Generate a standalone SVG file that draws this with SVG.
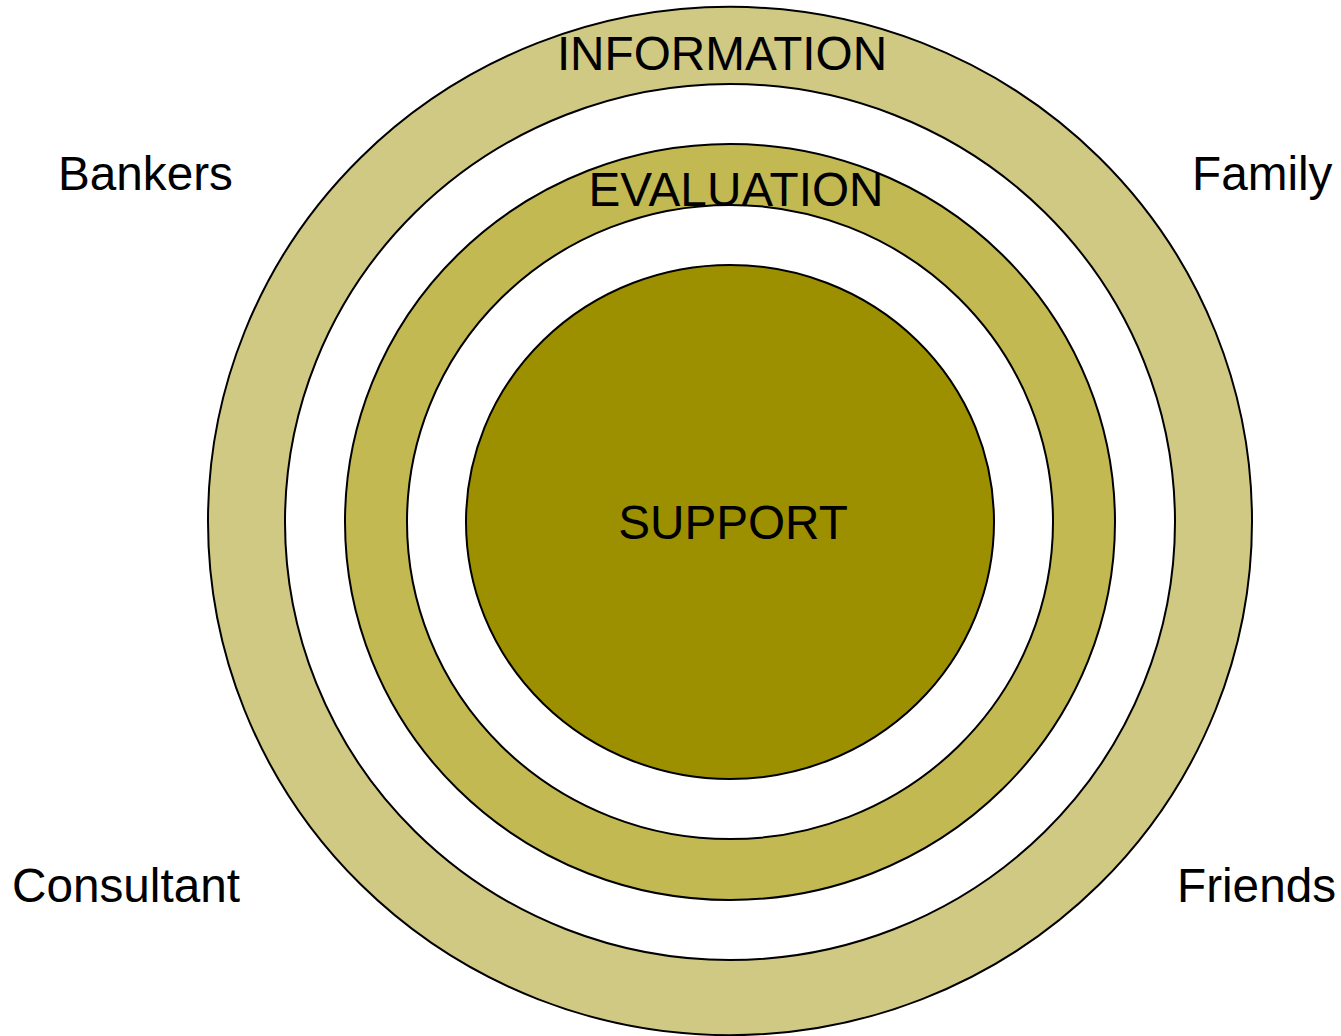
<svg xmlns="http://www.w3.org/2000/svg" width="1341" height="1036" viewBox="0 0 1341 1036">
<style>
.ring{stroke:#000;stroke-width:2;fill-rule:evenodd}
text{font-family:"Liberation Sans",Arial,sans-serif;font-size:47.7px;fill:#000}
.c{text-anchor:middle}
</style>
<rect width="1341" height="1036" fill="#fff"/>
<g id="information">
<path class="ring" fill="#D0C984" d="M208,521a522,514 0 1,0 1044,0a522,514 0 1,0 -1044,0Z M285,522a445,438 0 1,0 890,0a445,438 0 1,0 -890,0Z"/>
<text class="c" x="722" y="70">INFORMATION</text>
</g>
<g id="evaluation">
<path class="ring" fill="#C2B952" d="M345,522a385,378 0 1,0 770,0a385,378 0 1,0 -770,0Z M407,522a323,317 0 1,0 646,0a323,317 0 1,0 -646,0Z"/>
<text class="c" x="736" y="206">EVALUATION</text>
</g>
<g id="support">
<ellipse cx="730" cy="522" rx="264" ry="257" fill="#9C9000" stroke="#000" stroke-width="2"/>
<text class="c" x="733" y="539">SUPPORT</text>
</g>
<g id="bankers"><text x="58" y="190">Bankers</text></g>
<g id="family"><text x="1192" y="190">Family</text></g>
<g id="consultant"><text x="12" y="902">Consultant</text></g>
<g id="friends"><text x="1177" y="902">Friends</text></g>
<g id="connectors"></g>
</svg>
